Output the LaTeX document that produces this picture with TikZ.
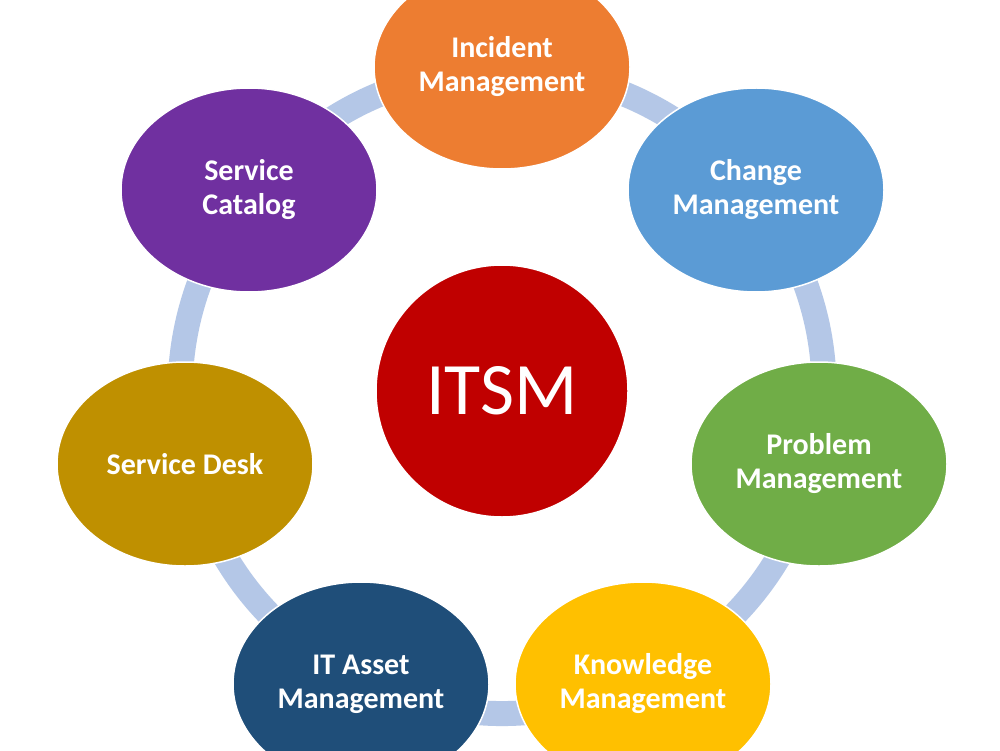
\documentclass[tikz,border=0pt]{standalone}
\usepackage{fontspec}
\setmainfont{Carlito}
\usetikzlibrary{shapes.geometric,backgrounds}
\definecolor{cOrange}{HTML}{ED7D31}
\definecolor{cBlue}{HTML}{5B9BD5}
\definecolor{cGreen}{HTML}{70AD47}
\definecolor{cYellow}{HTML}{FFC000}
\definecolor{cNavy}{HTML}{1F4E79}
\definecolor{cGold}{HTML}{BF9000}
\definecolor{cPurple}{HTML}{7030A0}
\definecolor{cRed}{HTML}{C00000}
\definecolor{ringblue}{HTML}{B4C7E7}
\begin{document}
\begin{tikzpicture}[x=1pt,y=-1pt,
  item/.style={ellipse, minimum width=256pt, minimum height=204pt, inner sep=0pt, outer sep=0pt,
    draw=white, line width=1.5pt, text=white, align=center,
    font=\fontsize{30}{34}\selectfont\bfseries},
  hub/.style={circle, minimum size=252pt, inner sep=0pt, outer sep=0pt, draw=white, line width=1.5pt,
    text=white, font=\fontsize{74}{80}\selectfont},
  ring/.style={draw=ringblue, line width=25pt}]
\useasboundingbox (0,0) rectangle (1000,751);
\node[item, fill=cOrange] (inc) at (502,67) {Incident\\Management};
\node[item, fill=cBlue] (chg) at (756,190) {Change\\Management};
\node[item, fill=cGreen] (prb) at (819,464) {Problem\\Management};
\node[item, fill=cYellow] (knw) at (643,684) {Knowledge\\Management};
\node[item, fill=cNavy] (ita) at (361,684) {IT Asset\\Management};
\node[item, fill=cGold] (dsk) at (185,464) {Service Desk};
\node[item, fill=cPurple] (cat) at (249,190) {Service\\Catalog};
\node[hub, fill=cRed] (itsm) at (502,391) {ITSM};
\begin{scope}[on background layer]
\fill[white] (0,0) rectangle (1000,751);
\draw[ring] (inc.center) to[bend left=21] (chg.center);
\draw[ring] (chg.center) to[bend left=21] (prb.center);
\draw[ring] (prb.center) to[bend left=21] (knw.center);
\draw[ring] (knw.center) to[bend left=21] (ita.center);
\draw[ring] (ita.center) to[bend left=21] (dsk.center);
\draw[ring] (dsk.center) to[bend left=21] (cat.center);
\draw[ring] (cat.center) to[bend left=21] (inc.center);
\end{scope}
\end{tikzpicture}
\end{document}
